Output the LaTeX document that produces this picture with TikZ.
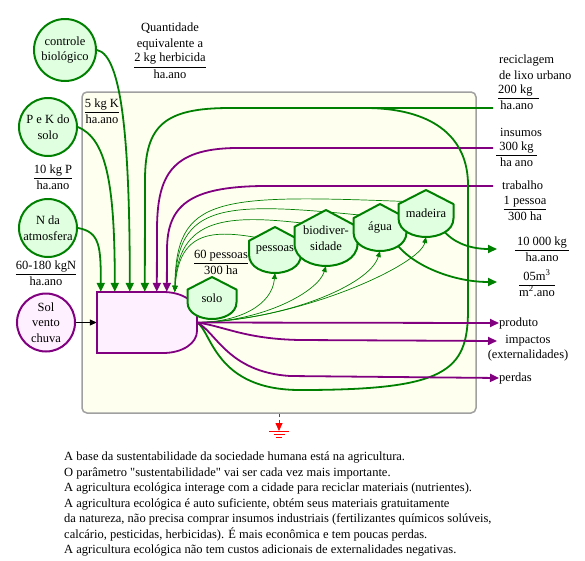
\documentclass[tikz,border=0pt]{standalone}
\usepackage{fontspec}
\setmainfont{Liberation Serif}[Ligatures=TeXOff]
\usetikzlibrary{arrows.meta, positioning, calc, backgrounds}
\definecolor{grn}{RGB}{0,128,0}
\definecolor{prp}{RGB}{128,0,128}
\definecolor{grnfill}{RGB}{224,255,224}
\definecolor{prpfill}{RGB}{255,240,255}
\definecolor{ivory}{RGB}{255,255,240}
\definecolor{framegray}{RGB}{160,160,160}
\setlength{\arrayrulewidth}{0.7pt}
\newcommand{\fr}[2]{\begin{tabular}{@{}c@{}}#1\\\hline #2\end{tabular}}
% storage tank: name, x, y, width, height, text
\newcommand{\tank}[6]{%
  \draw[tankline] ({#2},{#3-#5/2}) -- ({#2+#4/2},{#3-0.2*#5}) -- ({#2+#4/2},{#3+0.1*#5})
    .. controls ({#2+#4/2},{#3+0.38*#5}) and ({#2+0.22*#4},{#3+#5/2}) .. ({#2},{#3+#5/2})
    .. controls ({#2-0.22*#4},{#3+#5/2}) and ({#2-#4/2},{#3+0.38*#5}) .. ({#2-#4/2},{#3+0.1*#5})
    -- ({#2-#4/2},{#3-0.2*#5}) -- cycle;
  \node[tanktext, minimum width=#4pt, minimum height=#5pt] (#1) at (#2,#3) {#6};}

\begin{document}
\begin{tikzpicture}[x=1pt, y=-1pt, font=\fontsize{12.5}{15.5}\selectfont,
  src/.style={circle, draw=grn, fill=grnfill, line width=2pt, align=center, inner sep=0pt, minimum size=58pt},
  tankline/.style={draw=grn, fill=grnfill, line width=2pt, line join=round},
  tanktext/.style={inner sep=0pt, outer sep=0pt, align=center},
  lbl/.style={inner sep=0pt, align=center},
  gin/.style={grn, line width=1.8pt, -{Triangle[length=9pt, width=8pt]}},
  gline/.style={grn, line width=1.8pt},
  pin/.style={prp, line width=1.8pt, -{Triangle[length=9pt, width=8pt]}},
  fb/.style={grn, line width=0.7pt, -{Triangle[length=6pt, width=5pt]}}
]
\useasboundingbox (0,0) rectangle (585,560);
% system frame
\begin{pgfonlayer}{background}
\node[draw=framegray, fill=ivory, line width=1.5pt, rounded corners=5pt,
      minimum width=394pt, minimum height=321pt] (sys) at (279,252.5) {};
\end{pgfonlayer}
% sources (left)
\node[src, minimum size=62pt] (ctrl) at (65,50) {controle\\biológico};
\node[src] (pk) at (48,127) {P e K do\\solo};
\node[src] (natm) at (48,228) {N da\\atmosfera};
\node[src, draw=prp, fill=prpfill] (sol) at (46,322.5) {Sol\\vento\\chuva};
\node[lbl] (herb) at (170,53) {Quantidade\\equivalente a\\\fr{2 kg herbicida}{ha.ano}};
\node[lbl] (kk) at (102,112) {\fr{5 kg K}{ha.ano}};
\node[lbl] (kp) at (53,178) {\fr{10 kg P}{ha.ano}};
\node[lbl] (kn) at (46,274) {\fr{60-180 kgN}{ha.ano}};
% production
\draw[draw=prp, fill=prpfill, line width=1.8pt] (97,292) -- (163,292)
  .. controls (183,292) and (197,302) .. (197,314) -- (197,331)
  .. controls (197,343) and (183,353) .. (163,353) -- (97,353) -- cycle;
\node[inner sep=0pt, minimum width=100pt, minimum height=61pt] (prod) at (147,322.5) {};
% storages
\tank{solo}{212}{298}{49}{42}{solo}
\tank{pessoas}{275}{250}{52}{46}{pessoas}
\tank{biodiv}{326}{238}{63}{56}{biodiver-\\sidade}
\tank{agua}{380}{227.5}{53}{47}{água}
\tank{madeira}{426}{213.5}{55}{47}{madeira}
\node[lbl] (pop) at (221,263) {\fr{60 pessoas}{300 ha}};
% inputs and outputs (right)
\node[lbl, anchor=west, align=left] (recicl) at (499,67) {reciclagem\\de lixo urbano};
\node[lbl, anchor=west] (reciclfr) at (498,98) {\fr{200 kg\ \ \ }{ha.ano\ \ }};
\node[lbl, anchor=west] (ins) at (500,132) {insumos};
\node[lbl, anchor=west] (insfr) at (496,155) {\fr{\ 300 kg\ \ }{\ ha ano\ \ }};
\node[lbl, anchor=west] (trab) at (502,185) {trabalho};
\node[lbl] (trabfr) at (525,209) {\fr{1 pessoa}{300 ha}};
\node[lbl] (madfr) at (542,250) {\fr{\,10 000 kg\,}{ha.ano}};
\node[lbl] (aguafr) at (537,285) {\fr{\,05m\textsuperscript{3}\,}{m\textsuperscript{2}.ano}};
\node[lbl, anchor=west] (produto) at (499,323) {produto};
\node[lbl] (imp) at (528,348) {impactos\\(externalidades)};
\node[lbl, anchor=west] (perdas) at (499,378) {perdas};
\coordinate (recin) at (493,108);
\coordinate (insin) at (493,148);
\coordinate (trabin) at (493,186);
\coordinate (madout) at (497,249);
\coordinate (aguaout) at (497,282);
\coordinate (impin) at (497,341);
\coordinate (gnd) at (279,431);
% text below
\node[anchor=north west, align=left, inner sep=0pt] (txt) at (64,452)
  {A base da sustentabilidade da sociedade humana está na agricultura.\\
   O parâmetro "sustentabilidade" vai ser cada vez mais importante.\\
   A agricultura ecológica interage com a cidade para reciclar materiais (nutrientes).\\
   A agricultura ecológica é auto suficiente, obtém seus materiais gratuitamente\\
   da natureza, não precisa comprar insumos industriais (fertilizantes químicos solúveis,\\
   calcário, pesticidas, herbicidas). É mais econômica e tem poucas perdas.\\
   A agricultura ecológica não tem custos adicionais de externalidades negativas.};

\begin{pgfonlayer}{background}
% inputs from above
\draw[gin] (natm.east) .. controls +(22,4) and +(0,-45) .. ([xshift=4pt]prod.north west);
\draw[gin] (pk.east) .. controls +(28,12) and +(0,-110) .. ([xshift=18pt]prod.north west);
\draw[gin] (ctrl.east) .. controls +(25,5) and +(0,-150) .. ([xshift=33pt]prod.north west);
\draw[gin] (recin) -- (230,108) .. controls (165,108) and (145,125) .. (145,180)
  -- ([xshift=48pt]prod.north west);
\draw[pin] (insin) -- (235,148) .. controls (172,149) and (157,175) .. (157,230)
  -- ([xshift=60pt]prod.north west);
\draw[pin] (trabin) -- (262,186) .. controls (190,187) and (167,205) .. (167,250)
  -- ([xshift=70pt]prod.north west);
\draw[->, >={Triangle[length=7pt, width=6pt]}, line width=0.8pt] (sol.east) -- (prod.west);
% recycling loop
\draw[gline] (prod.east) .. controls (212,332) and (215,390) .. (300,390)
  .. controls (445,390) and (468,372) .. (468,310) -- (468,185)
  .. controls (468,135) and (430,108) .. (365,108);
% feedback from storages
\draw[fb] ($(madeira.north)!0.5!(madeira.west)$) .. controls (215,194) and (176,196) .. ([xshift=78pt]prod.north west);
\draw[fb] ($(agua.north)!0.5!(agua.west)$) .. controls (222,201) and (177,203) .. ([xshift=78pt]prod.north west);
\draw[fb] ($(biodiv.north)!0.5!(biodiv.west)$) .. controls (228,214) and (178,216) .. ([xshift=78pt]prod.north west);
\draw[fb] ($(pessoas.north)!0.5!(pessoas.west)$) .. controls (212,229) and (179,231) .. ([xshift=78pt]prod.north west);
% growth of storages
\draw[fb] (prod.east) .. controls (240,322) and (272,305) .. (pessoas.south);
\draw[fb] (prod.east) .. controls (262,322) and (318,292) .. (biodiv.south);
\draw[fb] (prod.east) .. controls (285,320) and (370,285) .. (agua.south);
\draw[fb] (prod.east) .. controls (300,320) and (420,265) .. (madeira.south);
% outputs
\draw[gin] ($(madeira.east)!0.5!(madeira.south)$) .. controls +(12,20) and +(-22,0) .. (madout);
\draw[gin] ($(agua.east)!0.5!(agua.south)$) .. controls +(15,25) and +(-45,0) .. (aguaout);
\draw[pin] (prod.east) -- (produto.west);
\draw[pin] (prod.east) .. controls +(28,4) and (245,339) .. (300,340) -- (impin);
\draw[pin] (prod.east) .. controls (216,332) and (228,372) .. (290,376) -- (perdas.west);
% heat sink
\draw[red, dashed, line width=0.8pt, -{Triangle[length=8pt, width=7pt]}] (sys.south) -- (gnd);
\end{pgfonlayer}
\draw[red, line width=1pt] ([xshift=-10pt]gnd) -- ([xshift=10pt]gnd)
  ([xshift=-5.5pt, yshift=-3.3pt]gnd) -- ([xshift=5.5pt, yshift=-3.3pt]gnd)
  ([xshift=-3pt, yshift=-6.3pt]gnd) -- ([xshift=3pt, yshift=-6.3pt]gnd);
\end{tikzpicture}
\end{document}
